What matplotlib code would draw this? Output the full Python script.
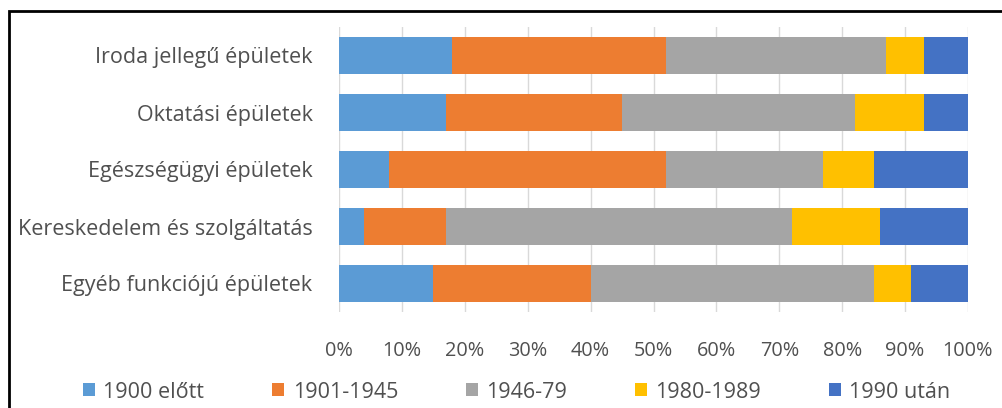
import matplotlib.pyplot as plt
import numpy as np
from matplotlib.patches import Rectangle

# building categories (top to bottom) and share of construction periods, %
categories = ['Iroda jellegű épületek', 'Oktatási épületek', 'Egészségügyi épületek',
              'Kereskedelem és szolgáltatás', 'Egyéb funkciójú épületek']
periods = ['1900 előtt', '1901-1945', '1946-79', '1980-1989', '1990 után']
before_1900 = [18, 17, 8, 4, 15]
p1901_1945 = [34, 28, 44, 13, 25]
p1946_79 = [35, 37, 25, 55, 45]
p1980_89 = [6, 11, 8, 14, 6]
after_1990 = [7, 7, 15, 14, 9]
colors = ['#5B9BD5', '#ED7D31', '#A5A5A5', '#FFC000', '#4472C4']
ticks = [0, 10, 20, 30, 40, 50, 60, 70, 80, 90, 100]

plt.rcParams['font.family'] = ['Open Sans', 'DejaVu Sans']
text_color = '#505050'

fig = plt.figure(figsize=(10.02, 4.08), dpi=100)
ax = fig.add_axes([339 / 1002, 1 - 312 / 408, 629 / 1002, 285 / 408])

y = np.arange(len(categories))
left = np.zeros(len(categories))
for vals, name, c in zip([before_1900, p1901_1945, p1946_79, p1980_89, after_1990], periods, colors):
    ax.barh(y, vals, left=left, height=0.65, color=c, label=name, zorder=2)
    left += np.array(vals)

ax.set_ylim(len(categories) - 0.5, -0.5)
ax.set_xlim(0, 100)
ax.set_yticks(y)
ax.set_yticklabels(categories, fontsize=15.5, color=text_color)
ax.set_xticks(ticks)
ax.set_xticklabels([f'{t}%' for t in ticks], fontsize=14.3, color=text_color)
ax.tick_params(axis='both', length=0)
ax.tick_params(axis='y', pad=19)
ax.tick_params(axis='x', pad=21)
ax.grid(axis='x', color='#d9d9d9', linewidth=1, zorder=0)
for s in ax.spines.values():
    s.set_visible(False)

ax.legend(loc='center left', bbox_to_anchor=(83 / 1002, 1 - 392 / 408),
          bbox_transform=fig.transFigure, ncol=5, frameon=False,
          fontsize=15.5, labelcolor=text_color, handlelength=0.55, handleheight=0.55,
          handletextpad=0.4, columnspacing=3.15, borderpad=0, borderaxespad=0)

# black frame around the chart, running off the right and bottom edges
fig.patches.append(Rectangle((9 / 1002, -0.1), 1.2, 1 - 11 / 408 + 0.1,
                             transform=fig.transFigure, fill=False,
                             edgecolor='black', linewidth=2))

fig.savefig('out.png', dpi=100)
